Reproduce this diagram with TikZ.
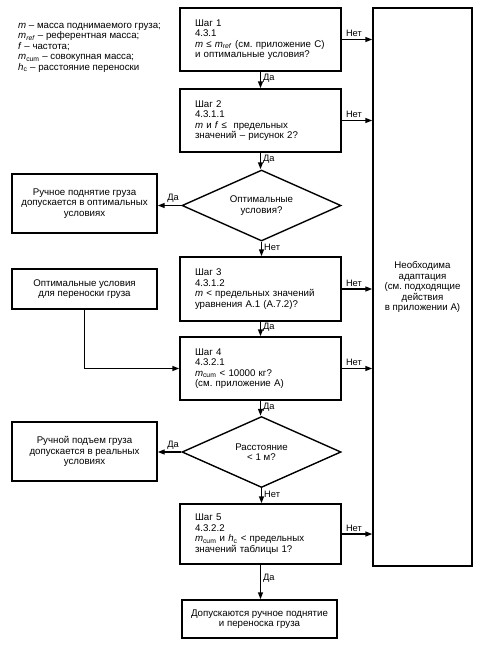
\documentclass[tikz,border=0pt]{standalone}
\usepackage{fontspec}
\setmainfont{Liberation Sans}
\usetikzlibrary{shapes.geometric,arrows.meta}
\newcommand\vsub[2]{\textit{#1}\textsubscript{#2}}
\frenchspacing
\begin{document}
\begin{tikzpicture}[x=1pt,y=-1pt,
  every node/.style={font=\fontsize{9.7}{10.5}\selectfont},
  box/.style={draw, line width=1.4pt, inner sep=0pt},
  stepbox/.style={box, minimum width=161pt, text width=131pt, inner xsep=15pt, align=left},
  sidebox/.style={box, minimum width=145pt, align=center},
  decision/.style={draw, line width=1.4pt, diamond, minimum width=159pt, minimum height=71pt, inner sep=0pt, aspect=2.2, align=center},
  arr/.style={line width=1.4pt, -{Triangle[length=7pt,width=5pt]}},
  lbl/.style={font=\fontsize{9.3}{10}\selectfont, inner sep=2pt}
]
\path[use as bounding box] (0,0) rectangle (486,649);

\node (legend) [align=left, anchor=north west, inner sep=0pt] at (18,23)
 {\textit{m} – масса поднимаемого груза;\\
  \vsub{m}{\textit{ref}} – референтная масса;\\
  \textit{f} – частота;\\
  \vsub{m}{cum} – совокупная масса;\\
  \vsub{h}{c} – расстояние переноски};

\node[stepbox, minimum height=63pt] (s1) at (260.5,39.5)
 {Шаг 1\\4.3.1\\\textit{m} ≤ \vsub{m}{\textit{ref}} (см. приложение С)\\и оптимальные условия?};
\node[stepbox, minimum height=63pt] (s2) at (260.5,120.5)
 {Шаг 2\\4.3.1.1\\\textit{m} и \textit{f} ≤ \ предельных\\значений – рисунок 2?};
\node[decision] (d1) at (261.5,205.5) {Оптимальные\\условия?};
\node[sidebox, minimum height=59pt] (lb1) at (84.5,203.5)
 {Ручное поднятие груза\\допускается в оптимальных\\условиях};
\node[stepbox, minimum height=64pt] (s3) at (260.5,289)
 {Шаг 3\\4.3.1.2\\\textit{m} < предельных значений\\уравнения А.1 (А.7.2)?};
\node[sidebox, minimum height=40pt] (ob) at (84.5,289)
 {Оптимальные условия\\для переноски груза};
\node[stepbox, minimum height=63pt] (s4) at (260.5,368.5)
 {Шаг 4\\4.3.2.1\\\vsub{m}{cum} < 10000 кг?\\(см. приложение А)};
\node[decision] (d2) at (261.5,452) {Расстояние\\< 1 м?};
\node[sidebox, minimum height=59pt] (lb2) at (84.5,451.5)
 {Ручной подъем груза\\допускается в реальных\\условиях};
\node[stepbox, minimum height=60pt] (s5) at (260.5,534)
 {Шаг 5\\4.3.2.2\\\vsub{m}{cum} и \vsub{h}{c} < предельных\\значений таблицы 1?};
\node[box, minimum width=155pt, minimum height=38pt, align=center] (fin) at (259.5,619)
 {Допускаются ручное поднятие\\и переноска груза};
\node[box, minimum width=99pt, minimum height=558pt, align=center] (big) at (422.5,287)
 {Необходима\\адаптация\\(см. подходящие\\действия\\в приложении А)};

% vertical flow
\draw[arr] (s1.south) -- node[lbl,right,pos=0.4]{Да} (s1.south |- s2.north);
\draw[arr] (s2.south) -- node[lbl,right,pos=0.4]{Да} (s2.south |- d1.north);
\draw[arr] (d1.south) -- node[lbl,right,pos=0.4]{Нет} (d1.south |- s3.north);
\draw[arr] (s3.south) -- node[lbl,right,pos=0.4]{Да} (s3.south |- s4.north);
\draw[arr] (s4.south) -- node[lbl,right,pos=0.4]{Да} (s4.south |- d2.north);
\draw[arr] (d2.south) -- node[lbl,right,pos=0.4]{Нет} (d2.south |- s5.north);
\draw[arr] (s5.south) -- node[lbl,right,pos=0.4]{Да} (s5.south |- fin.north);

% to the right
\draw[arr] (s1.east) -- node[lbl,above,pos=0.4]{Нет} (s1.east -| big.west);
\draw[arr] (s2.east) -- node[lbl,above,pos=0.4]{Нет} (s2.east -| big.west);
\draw[arr] (s3.east) -- node[lbl,above,pos=0.4]{Нет} (s3.east -| big.west);
\draw[arr] (s4.east) -- node[lbl,above,pos=0.4]{Нет} (s4.east -| big.west);
\draw[arr] (s5.east) -- node[lbl,above,pos=0.4]{Нет} (s5.east -| big.west);

% to the left
\draw[arr] (d1.west) -- node[lbl,above,pos=0.35]{Да} (d1.west -| lb1.east);
\draw[arr] (d2.west) -- node[lbl,above,pos=0.35]{Да} (d2.west -| lb2.east);

% optimal carrying conditions into step 4
\draw[arr] (ob.south) |- (s4.west);
\end{tikzpicture}
\end{document}
